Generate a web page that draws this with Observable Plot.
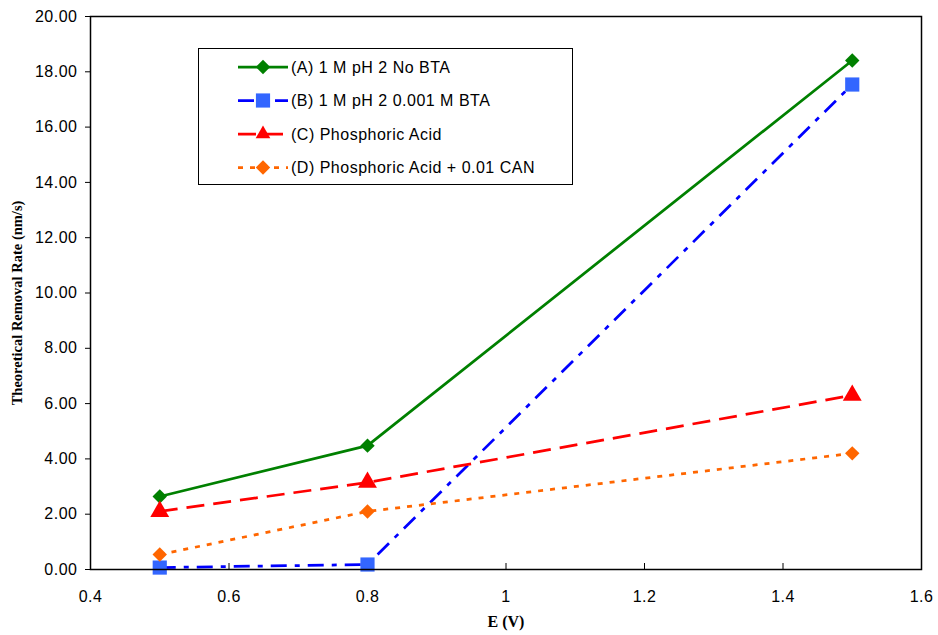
<!DOCTYPE html>
<html><head><meta charset="utf-8">
<script src="https://cdn.jsdelivr.net/npm/d3@7"></script>
<script src="https://cdn.jsdelivr.net/npm/@observablehq/plot@0.6"></script>
<style>
body{margin:0;background:#fff;}
#wrap{position:relative;width:938px;height:635px;}
#legend{position:absolute;left:198px;top:48px;}
</style></head><body><div id="wrap"></div>
<script>
const xValues = [0.5, 0.8, 1.5];
const seriesNames = ["(A) 1 M pH 2 No BTA", "(B) 1 M pH 2 0.001 M BTA", "(C) Phosphoric Acid", "(D) Phosphoric Acid + 0.01 CAN"];
const seriesA = [2.64, 4.48, 18.41];
const seriesB = [0.07, 0.18, 17.54];
const seriesC = [2.10, 3.15, 6.30];
const seriesD = [0.54, 2.10, 4.20];
const xTicks = [0.4, 0.6, 0.8, 1.0, 1.2, 1.4, 1.6];
const xTickLabels = ["0.4", "0.6", "0.8", "1", "1.2", "1.4", "1.6"];
const yTicks = [0, 2, 4, 6, 8, 10, 12, 14, 16, 18, 20];
const yTickLabels = ["0.00", "2.00", "4.00", "6.00", "8.00", "10.00", "12.00", "14.00", "16.00", "18.00", "20.00"];
const xTitle = "E (V)";
const yTitle = "Theoretical Removal Rate (nm/s)";

const styles = [
  {line: "#008000", fill: "#008000", dash: null, symbol: "diamond2", r: 6.5},
  {line: "#0000FF", fill: "#3366FF", dash: "16,8,5,8", symbol: "square", r: 8},
  {line: "#FF0000", fill: "#FF0000", dash: "18,9", symbol: "triangle", r: 7},
  {line: "#FF6600", fill: "#FF6600", dash: "5,7", symbol: "diamond2", r: 6.5}
];
const allSeries = [seriesA, seriesB, seriesC, seriesD];
const rows = allSeries.map((vals, i) => vals.map((v, j) => ({x: xValues[j], y: v, s: i})));

const sansFont = "'Liberation Sans', Arial, sans-serif";
const serifFont = "'Liberation Serif', 'Times New Roman', serif";
const marks = [];
rows.forEach((data, i) => {
  marks.push(Plot.line(data, {x: "x", y: "y", stroke: styles[i].line, strokeWidth: 2.75, strokeDasharray: styles[i].dash, strokeLinecap: "butt"}));
});
rows.forEach((data, i) => {
  marks.push(Plot.dot(data, {x: "x", y: "y", symbol: styles[i].symbol, r: styles[i].r, fill: styles[i].fill, stroke: "none"}));
});

const fmtX = d => xTickLabels[xTicks.findIndex(t => Math.abs(t - d) < 1e-9)];
const fmtY = d => yTickLabels[yTicks.findIndex(t => Math.abs(t - d) < 1e-9)];

const chart = Plot.plot({
  width: 938, height: 635,
  marginLeft: 90, marginRight: 17, marginTop: 16, marginBottom: 66,
  style: {fontFamily: sansFont, fontSize: "16px", color: "#000", background: "#fff", letterSpacing: "0.5px"},
  x: {domain: [0.4, 1.6]},
  y: {domain: [0, 20]},
  marks: [
    Plot.axisY({ticks: yTicks, tickSize: 5, tickPadding: 8, tickFormat: fmtY, label: null, fontSize: 16, stroke: "#000", strokeWidth: 1}),
    Plot.axisX({ticks: xTicks, tickSize: 0, tickPadding: 21, tickFormat: fmtX, label: null, fontSize: 16}),
    Plot.axisX({ticks: xTicks, tickSize: -6, tickFormat: () => "", label: null, stroke: "#000", strokeWidth: 1}),
    ...marks,
    Plot.frame({stroke: "#000", strokeWidth: 1.5})
  ]
});

const wrap = document.getElementById("wrap");
wrap.appendChild(chart);

// Axis titles
const svg = d3.select(chart);
svg.append("text").attr("x", 506).attr("y", 627).attr("text-anchor", "middle").attr("letter-spacing", "0")
  .attr("font-family", serifFont).attr("font-weight", "bold").attr("font-size", 16).attr("fill", "#000").text(xTitle);
svg.append("text").attr("transform", "translate(22,303) rotate(-90)").attr("text-anchor", "middle").attr("letter-spacing", "0")
  .attr("font-family", serifFont).attr("font-weight", "bold").attr("font-size", 14.5).attr("fill", "#000").text(yTitle);

// Legend
const lg = d3.select(wrap).append("svg").attr("id", "legend").attr("width", 375).attr("height", 137);
lg.append("rect").attr("x", 0.5).attr("y", 0.5).attr("width", 374).attr("height", 136).attr("fill", "#fff").attr("stroke", "#000").attr("stroke-width", 1);
const symMap = {diamond2: d3.symbolDiamond2, square: d3.symbolSquare, triangle: d3.symbolTriangle2};
seriesNames.forEach((name, i) => {
  const cy = 19 + i * 33.5;
  const st = styles[i];
  lg.append("line").attr("x1", 40).attr("x2", 90).attr("y1", cy).attr("y2", cy)
    .attr("stroke", st.line).attr("stroke-width", 2.75).attr("stroke-dasharray", st.dash);
  lg.append("path").attr("transform", `translate(65,${cy})`)
    .attr("d", d3.symbol(symMap[st.symbol], st.r * st.r * Math.PI)()).attr("fill", st.fill);
  lg.append("text").attr("x", 93).attr("y", cy).attr("dy", "0.36em").attr("letter-spacing", "0.5px")
    .attr("font-family", sansFont).attr("font-size", 16).attr("fill", "#000").text(name);
});
</script></body></html>
